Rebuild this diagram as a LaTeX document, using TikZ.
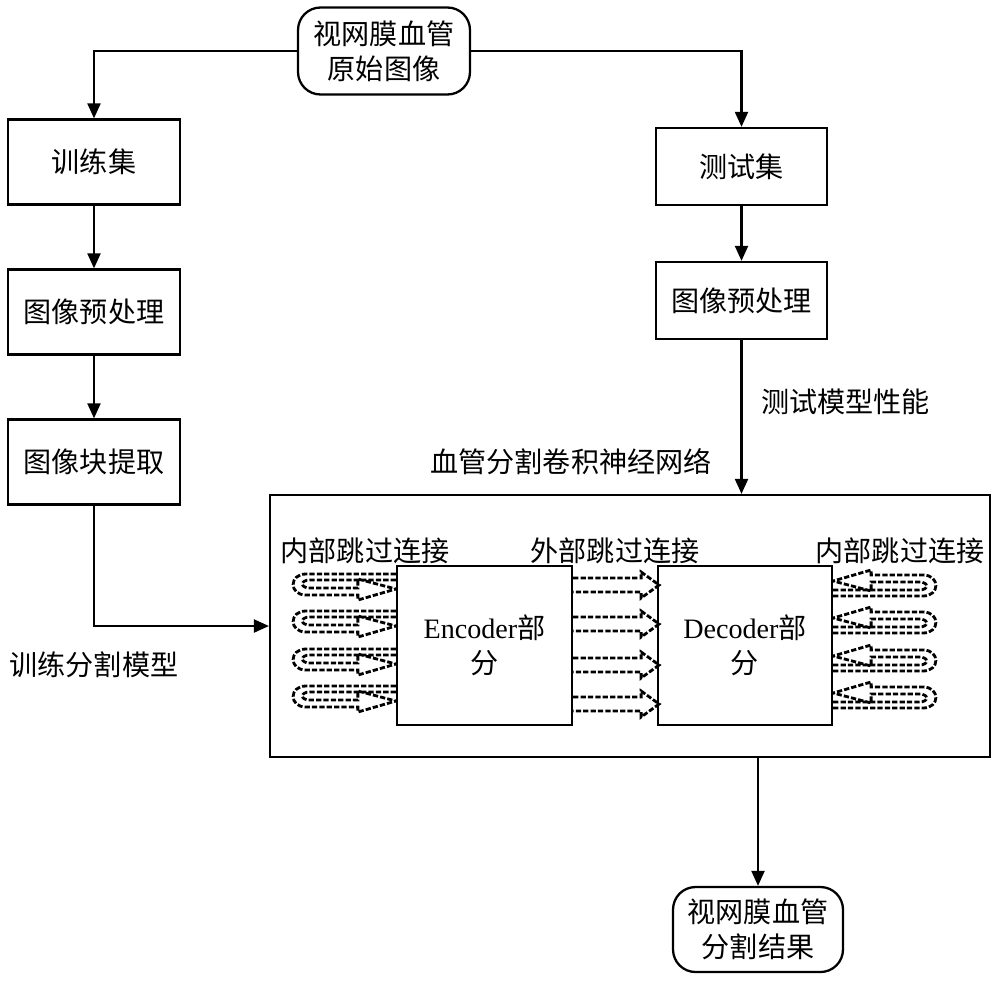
\documentclass[tikz,border=0pt]{standalone}
\usepackage{fontspec}
\setmainfont{Liberation Serif}
\newfontfamily\cjk{Noto Sans CJK SC}
\usetikzlibrary{arrows.meta}

\tikzset{
  box/.style={draw, line width=1.3pt, align=center, font=\cjk\fontsize{16}{20}\selectfont},
  endbox/.style={box, rounded corners=0.45cm},
  lbl/.style={font=\cjk\fontsize{16}{20}\selectfont},
  flow/.style={line width=1.2pt, -{Triangle[length=0.3cm, width=0.26cm]}},
  skipline/.style={line width=1.6pt, dash pattern=on 3pt off 1.2pt},
  skiploop/.pic={
    \draw[skipline] (0,-11) -- (-90,-11) .. controls (-107,-11) and (-107,10) .. (-90,10)
      -- (-38,10) -- (-38,15) -- (0,4);
    \draw[skipline] (0,-5) -- (-86,-5) .. controls (-96,-5) and (-96,3) .. (-86,3)
      -- (-38,3) -- (-38,-6) -- (0,4);
  },
  skiparrow/.pic={
    \draw[skipline] (0,-7) -- (68,-7) -- (68,-13) -- (86,0) -- (68,13) -- (68,7) -- (0,7);
  }
}

\begin{document}
\begin{tikzpicture}[x=0.02cm, y=-0.02cm]
  \useasboundingbox (0,0) rectangle (1000,981);

  \node[endbox, minimum width=3.44cm, minimum height=1.74cm] (src) at (384,51) {视网膜血管\\原始图像};

  \node[box, minimum width=3.44cm, minimum height=1.7cm] (train) at (94,162) {训练集};
  \node[box, minimum width=3.44cm, minimum height=1.7cm] (prel) at (94,312) {图像预处理};
  \node[box, minimum width=3.44cm, minimum height=1.7cm] (patch) at (94,462) {图像块提取};

  \node[box, minimum width=3.42cm, minimum height=1.54cm] (test) at (741.5,166.5) {测试集};
  \node[box, minimum width=3.42cm, minimum height=1.54cm] (prer) at (741.5,300.5) {图像预处理};

  \node[box, minimum width=14.4cm, minimum height=5.24cm] (cnn) at (630,626) {};
  \node[box, minimum width=3.5cm, minimum height=3.18cm] (enc) at (484.5,645.5) {{\rmfamily Encoder}部\\分};
  \node[box, minimum width=3.48cm, minimum height=3.18cm] (dec) at (745,645.5) {{\rmfamily Decoder}部\\分};

  \node[endbox, minimum width=3.4cm, minimum height=1.7cm] (out) at (758,929.5) {视网膜血管\\分割结果};

  \draw[flow] (src.west) -| (train.north);
  \draw[flow] (src.east) -| (test.north);
  \draw[flow] (train) -- (prel);
  \draw[flow] (prel) -- (patch);
  \draw[flow] (test) -- (prer);
  \draw[flow] (prer) -- (prer |- cnn.north);
  \draw[flow] (patch.south) |- (cnn.west);
  \draw[flow] (out.north |- cnn.south) -- (out.north);

  \node[lbl, anchor=west] at (755,402) {测试模型性能};
  \node[lbl] at (571,462) {血管分割卷积神经网络};
  \node[lbl] at (94,665) {训练分割模型};
  \node[lbl] at (365,551) {内部跳过连接};
  \node[lbl] at (615,551) {外部跳过连接};
  \node[lbl] at (900,551) {内部跳过连接};

  \foreach \y in {585,622,660,697}
    \pic at (enc.west |- 0,\y) {skiploop};
  \foreach \y in {585,624,665,704}
    \pic at (enc.east |- 0,\y) {skiparrow};
  \foreach \y in {585,622,660,697}
    \pic[rotate=180] at (dec.east |- 0,\y) {skiploop};
\end{tikzpicture}
\end{document}
